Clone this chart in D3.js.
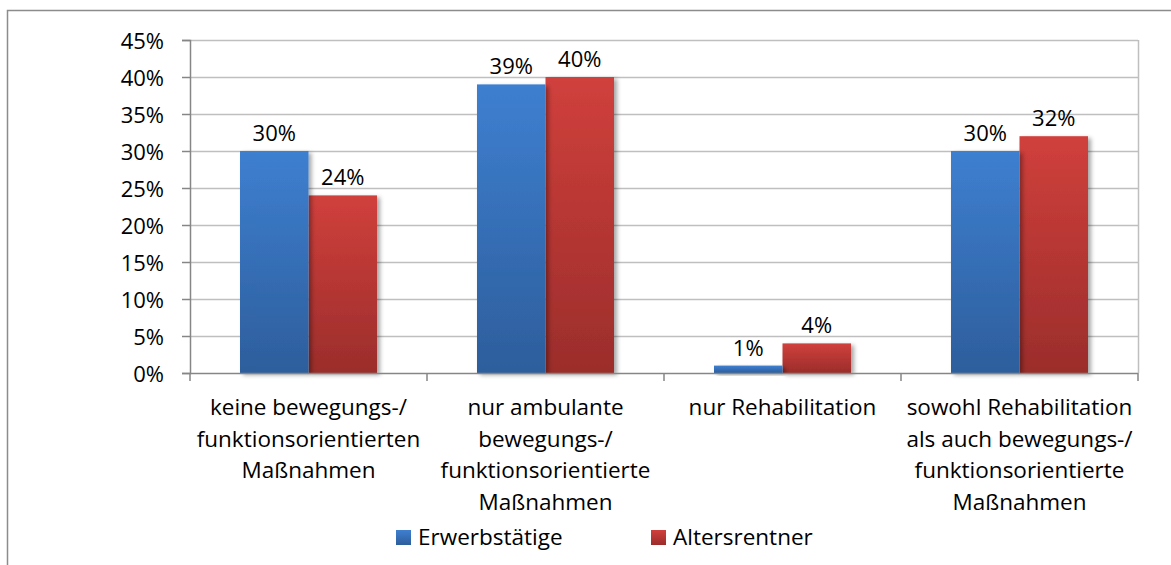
<!DOCTYPE html>
<html lang="de">
<head>
<meta charset="UTF-8">
<title>Chart</title>
<style>
  body { margin: 0; background: #fff; }
  svg { display: block; font-family: "Open Sans", "Noto Sans", sans-serif; }
</style>
</head>
<body>
<svg id="chart" width="1171" height="565"></svg>
<script src="https://cdn.jsdelivr.net/npm/d3@7"></script>
<script>
const categories = [
  ['keine bewegungs-/', 'funktionsorientierten', 'Maßnahmen'],
  ['nur ambulante', 'bewegungs-/', 'funktionsorientierte', 'Maßnahmen'],
  ['nur Rehabilitation'],
  ['sowohl Rehabilitation', 'als auch bewegungs-/', 'funktionsorientierte', 'Maßnahmen']
];
const seriesNames = ['Erwerbstätige', 'Altersrentner'];
const erwerbstaetige = [30, 39, 1, 30];
const altersrentner = [24, 40, 4, 32];
const yTicks = [0, 5, 10, 15, 20, 25, 30, 35, 40, 45];

const FONT = '"Open Sans", "Noto Sans", sans-serif';
const svg = d3.select('#chart');
const m = {left: 190, top: 40, right: 1138, bottom: 373};

// gradients + shadow
const defs = svg.append('defs');
const grads = [['gBlue', '#3e7fd0', '#2d5e9c'], ['gRed', '#d0403c', '#9b2d2b']];
grads.forEach(g => {
  const lg = defs.append('linearGradient').attr('id', g[0]).attr('x1', 0).attr('y1', 0).attr('x2', 0).attr('y2', 1);
  lg.append('stop').attr('offset', '0%').attr('stop-color', g[1]);
  lg.append('stop').attr('offset', '100%').attr('stop-color', g[2]);
});
const f = defs.append('filter').attr('id', 'shadow').attr('x', '-20%').attr('y', '-20%').attr('width', '150%').attr('height', '150%');
f.append('feDropShadow').attr('dx', 3).attr('dy', 2).attr('stdDeviation', 2).attr('flood-color', '#000').attr('flood-opacity', 0.35);

// outer frame
svg.append('rect').attr('x', 7.5).attr('y', 10.5).attr('width', 1180).attr('height', 570)
  .attr('fill', 'none').attr('stroke', '#8c8c8c').attr('stroke-width', 1.5);

const x = d3.scaleBand().domain(d3.range(categories.length)).range([m.left, m.right]);
const xs = d3.scaleBand().domain([0, 1]).range([0, x.bandwidth()]).paddingOuter(0.73).paddingInner(0);
const y = d3.scaleLinear().domain([0, 45]).range([m.bottom, m.top]);

// gridlines
svg.append('g').selectAll('line').data(yTicks.slice(1)).join('line')
  .attr('x1', m.left).attr('x2', m.right)
  .attr('y1', d => Math.round(y(d)) + 0.5).attr('y2', d => Math.round(y(d)) + 0.5)
  .attr('stroke', '#bfbfbf').attr('stroke-width', 1.5);
svg.append('line').attr('x1', m.right + 0.5).attr('x2', m.right + 0.5).attr('y1', m.top).attr('y2', m.bottom)
  .attr('stroke', '#bfbfbf').attr('stroke-width', 1.5);

// y axis
const yAxis = svg.append('g').attr('transform', `translate(${m.left},0)`)
  .call(d3.axisLeft(y).tickValues(yTicks).tickFormat(d => d + '%').tickSize(8).tickPadding(18));
yAxis.select('.domain').attr('stroke', '#868686').attr('stroke-width', 1.5);
yAxis.selectAll('.tick line').attr('stroke', '#868686').attr('stroke-width', 1.5);
yAxis.selectAll('text').attr('font-size', 22).attr('fill', '#000').attr('font-family', FONT).attr('dy', '0.38em');

// bars
const data = [erwerbstaetige, altersrentner];
const groups = svg.append('g').selectAll('g').data(categories).join('g')
  .attr('transform', (d, i) => `translate(${x(i)},0)`);
[1, 0].forEach(s => {
  groups.append('rect')
    .attr('x', (d, i) => xs(s))
    .attr('y', (d, i) => y(data[s][i]))
    .attr('width', xs.bandwidth())
    .attr('height', (d, i) => m.bottom - y(data[s][i]))
    .attr('fill', s === 0 ? 'url(#gBlue)' : 'url(#gRed)')
    .attr('filter', 'url(#shadow)');
});
[0, 1].forEach(s => {
  groups.append('text')
    .attr('x', (d, i) => xs(s) + xs.bandwidth() / 2)
    .attr('y', (d, i) => y(data[s][i]) - 10)
    .attr('text-anchor', 'middle').attr('font-size', 22)
    .text((d, i) => data[s][i] + '%');
});

// x axis
svg.append('line').attr('x1', m.left).attr('x2', m.right).attr('y1', m.bottom + 0.5).attr('y2', m.bottom + 0.5)
  .attr('stroke', '#868686').attr('stroke-width', 1.5);
svg.append('g').selectAll('line').data(d3.range(categories.length + 1)).join('line')
  .attr('x1', d => m.left + d * x.step()).attr('x2', d => m.left + d * x.step())
  .attr('y1', m.bottom).attr('y2', m.bottom + 8)
  .attr('stroke', '#868686').attr('stroke-width', 1.5);

groups.append('text')
  .attr('x', x.bandwidth() / 2).attr('text-anchor', 'middle').attr('font-size', 22.5)
  .selectAll('tspan').data(d => d).join('tspan')
  .attr('x', x.bandwidth() / 2)
  .attr('y', (d, i) => 415 + i * 31.5)
  .text(d => d);

// legend
const legX = [396, 651];
const leg = svg.append('g').selectAll('g').data(seriesNames).join('g')
  .attr('transform', (d, i) => `translate(${legX[i]},530)`);
leg.append('rect').attr('width', 15).attr('height', 15)
  .attr('fill', (d, i) => i === 0 ? 'url(#gBlue)' : 'url(#gRed)');
leg.append('text').attr('x', 22).attr('y', 15).attr('font-size', 22.5).text(d => d);
</script>
</body>
</html>
